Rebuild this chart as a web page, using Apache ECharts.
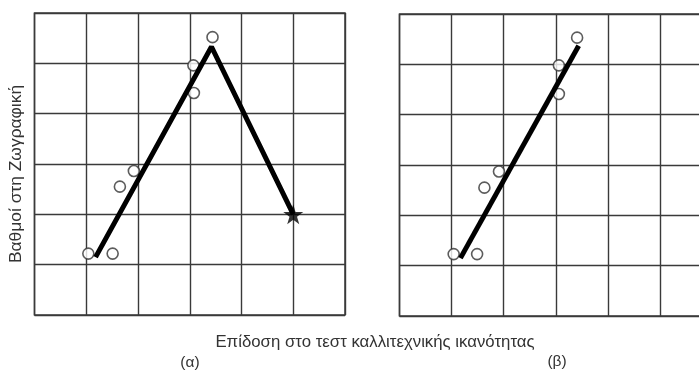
<!DOCTYPE html>
<html>
<head>
<meta charset="utf-8">
<script src="https://cdn.jsdelivr.net/npm/echarts@6/dist/echarts.min.js"></script>
<style>
  html, body { margin: 0; padding: 0; background: #fff; overflow: hidden; }
  #chart { width: 730px; height: 371px; }
</style>
</head>
<body>
<div id="chart"></div>
<script>
// circles (same in both panels)
var pointsA = [[1.04, 1.22], [1.51, 1.22], [1.65, 2.55], [1.92, 2.86], [3.07, 4.96], [3.08, 4.41], [3.44, 5.52]];
var pointsB = [[1.04, 1.23], [1.49, 1.23], [1.63, 2.55], [1.91, 2.87], [3.06, 4.98], [3.06, 4.41], [3.41, 5.53]];
// thick lines
var lineA = [[1.18, 1.15], [3.42, 5.33], [5, 2]];
var lineB = [[1.17, 1.15], [3.44, 5.37]];
var starA = [[5, 2]];

var yTitle = 'Βαθμοί στη Ζωγραφική';
var xTitle = 'Επίδοση στο τεστ καλλιτεχνικής ικανότητας';
var panelLabels = ['(α)', '(β)'];

var chartDom = document.getElementById('chart');
var myChart = echarts.init(chartDom);
var option;

var gridColor = '#3a3a3a';
var textColor = '#333';
var fontFam = 'Liberation Sans, Arial, sans-serif';
var starPath = 'path://M50,0 L61,35 L98,35 L68,57 L79,91 L50,70 L21,91 L32,57 L2,35 L39,35 Z';

function axisCfg(idx) {
  return {
    type: 'value',
    gridIndex: idx,
    min: 0,
    max: 6,
    interval: 1,
    axisLine: { show: false },
    axisTick: { show: false },
    axisLabel: { show: false },
    splitLine: { show: true, lineStyle: { color: gridColor, width: 1.4 } }
  };
}

option = {
  animation: false,
  grid: [
    { left: 34.5, top: 13, width: 310.5, height: 302, show: true, borderColor: gridColor, borderWidth: 1.5 },
    { left: 399.5, top: 14, width: 312.5, height: 302, show: true, borderColor: gridColor, borderWidth: 1.5 }
  ],
  xAxis: [axisCfg(0), axisCfg(1)],
  yAxis: [axisCfg(0), axisCfg(1)],
  series: [
    {
      type: 'scatter',
      xAxisIndex: 0, yAxisIndex: 0,
      data: pointsA,
      symbol: 'circle',
      symbolSize: 11,
      itemStyle: { color: '#fff', borderColor: '#333', borderWidth: 1.6 },
      z: 2
    },
    {
      type: 'line',
      xAxisIndex: 0, yAxisIndex: 0,
      data: lineA,
      showSymbol: false,
      lineStyle: { color: '#000', width: 5 },
      z: 3
    },
    {
      type: 'scatter',
      xAxisIndex: 0, yAxisIndex: 0,
      data: starA,
      symbol: starPath,
      symbolSize: 20,
      itemStyle: { color: '#000' },
      z: 4
    },
    {
      type: 'scatter',
      xAxisIndex: 1, yAxisIndex: 1,
      data: pointsB,
      symbol: 'circle',
      symbolSize: 11,
      itemStyle: { color: '#fff', borderColor: '#333', borderWidth: 1.6 },
      z: 2
    },
    {
      type: 'line',
      xAxisIndex: 1, yAxisIndex: 1,
      data: lineB,
      showSymbol: false,
      lineStyle: { color: '#000', width: 5 },
      z: 3
    }
  ],
  graphic: [
    {
      type: 'text',
      x: 16, y: 174,
      rotation: Math.PI / 2,
      style: { text: yTitle, fill: textColor, font: '17.4px ' + fontFam, align: 'center', verticalAlign: 'middle' }
    },
    {
      type: 'text',
      x: 375, y: 342,
      style: { text: xTitle, fill: textColor, font: '16.8px ' + fontFam, align: 'center', verticalAlign: 'middle' }
    },
    {
      type: 'text',
      x: 190, y: 363,
      style: { text: panelLabels[0], fill: textColor, font: '15.5px ' + fontFam, align: 'center', verticalAlign: 'middle' }
    },
    {
      type: 'text',
      x: 557, y: 362,
      style: { text: panelLabels[1], fill: textColor, font: '15.5px ' + fontFam, align: 'center', verticalAlign: 'middle' }
    }
  ]
};

option && myChart.setOption(option);
</script>
</body>
</html>
